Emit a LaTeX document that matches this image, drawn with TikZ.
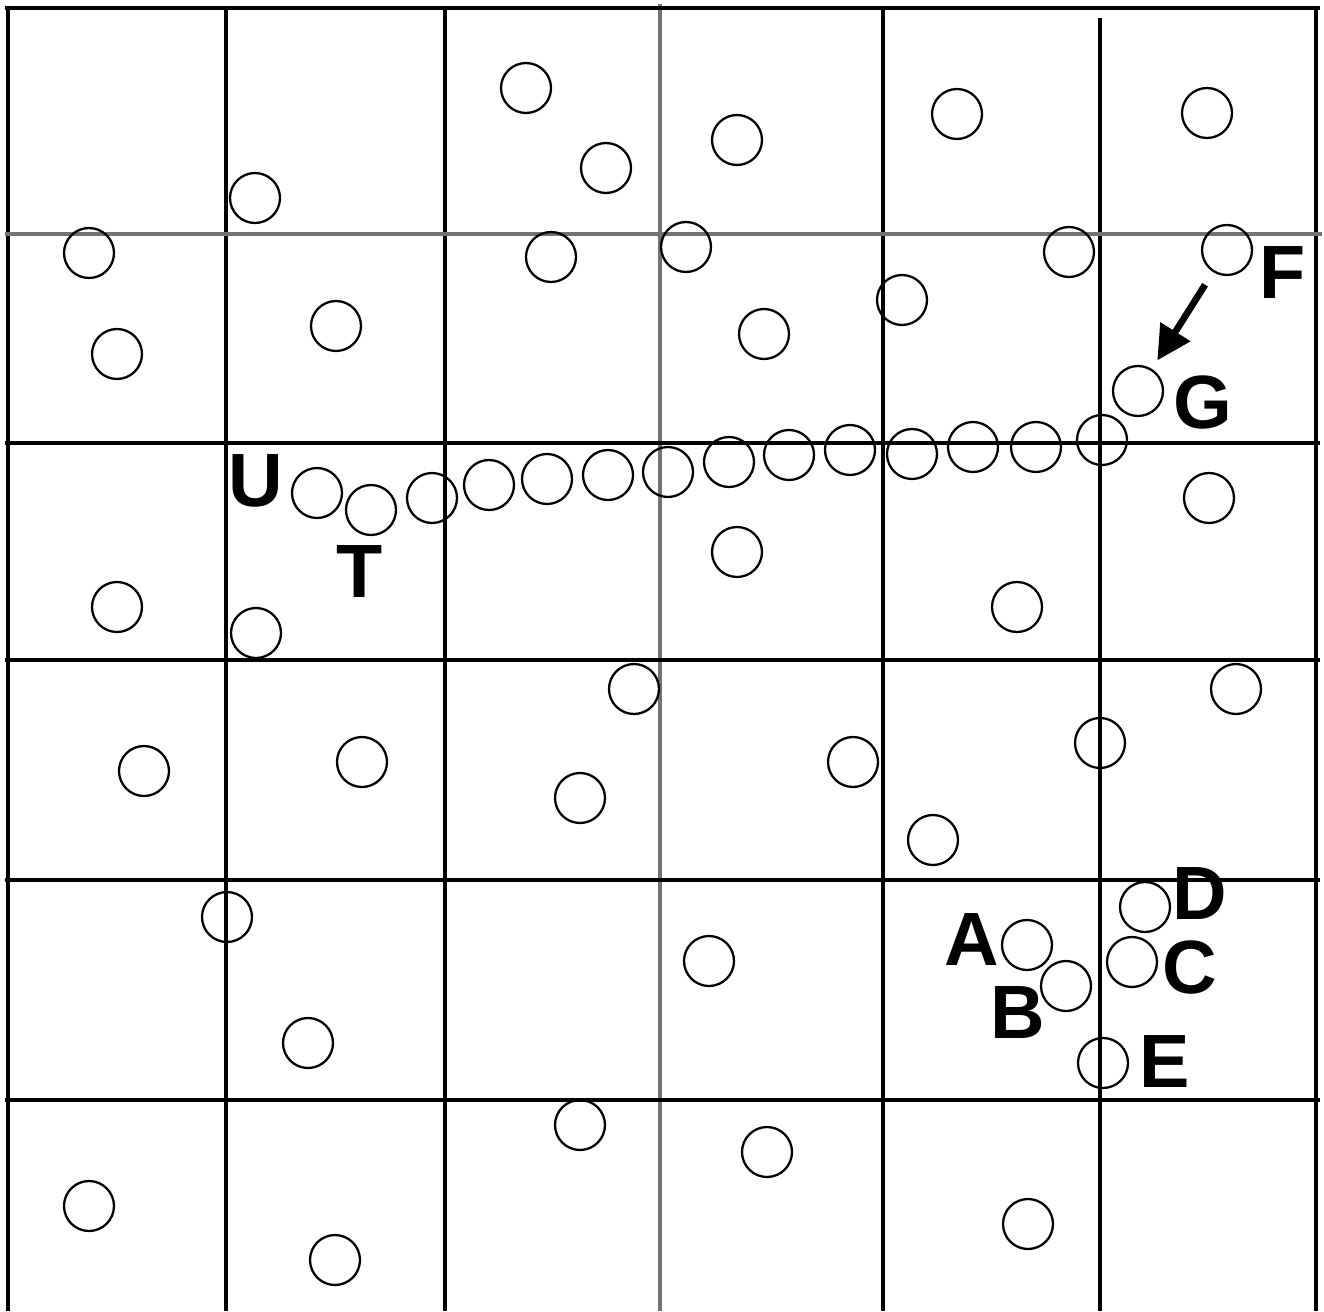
\documentclass[tikz,border=0pt]{standalone}
\usepackage{fontspec}
\setsansfont{Liberation Sans}
\usetikzlibrary{arrows.meta,positioning}

\begin{document}
\begin{tikzpicture}[x=0.02cm, y=-0.02cm,
  gridline/.style={line width=1.8pt, black},
  gridfaint/.style={line width=1.8pt, black!55},
  disc/.style={circle, draw, line width=1.3pt, minimum size=1cm, inner sep=0pt},
  tag/.style={font=\sffamily\bfseries\fontsize{43}{43}\selectfont, inner sep=0pt}]
\useasboundingbox (0,0) rectangle (1324,1311);

% grid of cells
\foreach \x in {8,226,445,883,1316}
  \draw [gridline] (\x,6) -- (\x,1311);
\draw [gridfaint] (660,4) -- (660,1311);
\draw [gridline] (1100,18) -- (1100,1311);
\foreach \y in {8,443,660,880,1100}
  \draw [gridline] (5,\y) -- (1320,\y);
\draw [gridfaint] (5,234) -- (1322,234);

% scattered circles
\foreach \x/\y [count=\i] in {526/88, 606/168, 737/140, 957/114, 1207/113,
    255/198, 89/253, 551/257, 686/247, 1069/252, 117/354, 336/326, 764/334, 902/300,
    1209/498, 737/552, 117/607, 256/633, 1017/607,
    634/689, 1236/689, 1100/743, 144/771, 362/762, 853/762, 580/798, 933/840,
    227/917, 709/961, 308/1043, 580/1125, 767/1152, 89/1206, 1028/1224, 335/1260}
  \node [disc] (c\i) at (\x,\y) {};

% chain from T to G
\foreach \x/\y [count=\i] in {432/498, 489/485, 547/479, 608/475, 668/472, 729/462,
    789/455, 850/450, 912/454, 973/447, 1036/447, 1102/440}
  \node [disc] (k\i) at (\x,\y) {};

\node [disc] (U) at (317,493) {};
\node [disc] (T) at (371,510) {};
\node [disc] (G) at (1138,391) {};
\node [disc] (F) at (1227,250) {};
\node [disc] (A) at (1027,945) {};
\node [disc] (B) at (1066,986) {};
\node [disc] (C) at (1132,962) {};
\node [disc] (D) at (1145,907) {};
\node [disc] (E) at (1103,1063) {};

% letters
\node [tag] (lU) at (256,481) {U};
\node [tag] (lT) at (360,572) {T};
\node [tag] (lF) at (1283,273) {F};
\node [tag] (lG) at (1203,402) {G};
\node [tag] (lA) at (972,939) {A};
\node [tag] (lB) at (1018,1012) {B};
\node [tag] (lC) at (1190,967) {C};
\node [tag] (lD) at (1200,894) {D};
\node [tag] (lE) at (1165,1061) {E};

\draw [line width=3.8pt, -{Triangle[length=0.68cm, width=0.68cm]},
  shorten <=0.3cm, shorten >=0.2cm] (F) -- (G);

\end{tikzpicture}
\end{document}
